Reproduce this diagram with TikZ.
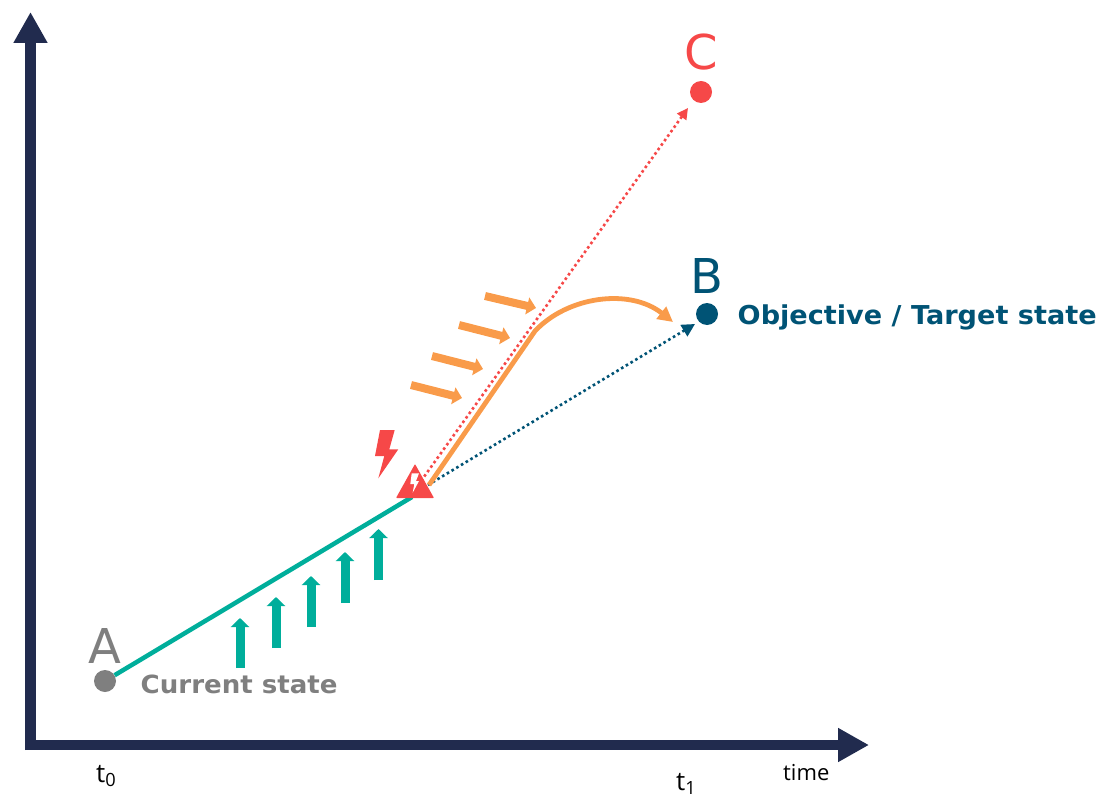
\documentclass[tikz,border=0pt]{standalone}
\usepackage{fontspec}
\setmainfont{DejaVu Sans}
\newfontfamily\lblfont{Open Sans}
\newfontfamily\widebold[FakeStretch=1.043]{DejaVu Sans Bold}
\usetikzlibrary{arrows.meta,calc}
\definecolor{navy}{HTML}{212B4E}
\definecolor{teal2}{HTML}{00AE9B}
\definecolor{orange2}{HTML}{F99B4A}
\definecolor{red2}{HTML}{F64848}
\definecolor{blue2}{HTML}{005375}
\definecolor{gray2}{HTML}{7F7F7F}
\tikzset{
  axisline/.style={draw=navy,line width=10.5pt,-{Triangle[length=31pt,width=32pt]}},
  dotpoint/.style={circle,minimum size=22pt,inner sep=0pt},
  bigletter/.style={font=\fontsize{48}{48}\selectfont,inner sep=0pt,anchor=center},
  statelabel/.style={inner sep=0pt,anchor=west},
  ticklabel/.style={font=\lblfont\fontsize{26}{26}\selectfont,inner sep=0pt,anchor=base west},
  pusharrow/.style={draw=orange2,line width=8pt,-{Triangle[length=9pt,width=17pt]}},
  liftarrow/.style={draw=teal2,line width=9pt,-{Triangle[length=9pt,width=18pt]}},
  dotline/.style={line width=2.6pt,dash pattern=on 2.6pt off 2.9pt}
}
\begin{document}
\begin{tikzpicture}[x=1pt,y=-1pt]
\useasboundingbox (0,0) rectangle (1102,794);
% axes
\coordinate (origin) at (30.5,745);
\coordinate (ytip) at (30.5,12);
\coordinate (xtip) at (869,745);
\coordinate (xstart) at (25.2,745);
\draw[axisline] (origin |- xstart) ++(0,5.2) -- (ytip);
\draw[axisline] (xstart) -- (xtip);
% points
\node[dotpoint,fill=gray2] (A) at (105,681) {};
\node[dotpoint,fill=blue2] (B) at (707,314) {};
\node[dotpoint,fill=red2] (C) at (701,92) {};
\node[bigletter,text=gray2] (Al) at (105,646) {A};
\node[bigletter,text=blue2] (Bl) at (707,276) {B};
\node[bigletter,text=red2] (Cl) at (701,52) {C};
\node[statelabel,text=gray2,font=\widebold\fontsize{25}{25}\selectfont] (Atext) at (140.5,684) {Current state};
\node[statelabel,text=blue2,font=\widebold\fontsize{26}{26}\selectfont] (Btext) at (737.5,317.5) {Objective / Target state};
\node[ticklabel] (t0) at (96,782) {t\textsubscript{0}};
\node[ticklabel] (t1) at (676,790) {t\textsubscript{1}};
\node[ticklabel,font=\lblfont\fontsize{22}{22}\selectfont] (timel) at (783,780) {time};
% warning triangle
\coordinate (warn) at (412,497);
\coordinate (redstart) at (421,481);
\coordinate (bluestart) at (428,485);
\coordinate (orangestart) at (429,485);
\coordinate (bend) at (535,331);
\coordinate (orangeend) at (673,322);
% paths
\draw[teal2,line width=4.5pt] (A) -- (warn);
\draw[red2,dotline,-{Triangle[length=11pt,width=11pt]}] (redstart) -- ($(C)+(-13,16)$);
\draw[blue2,dotline,-{Triangle[length=13pt,width=13pt]}] (bluestart) -- ($(B)+(-12,10)$);
\draw[orange2,line width=4.8pt,-{Triangle[length=15pt,width=15pt]}] (orangestart) -- (bend)
  .. controls (568,296) and (630,288) .. (orangeend);
\fill[red2,rounded corners=0.8pt] (415,464) -- (434,498) -- (396,498) -- cycle;
\fill[white] (411.7,473.3) -- (419,473.3) -- (416,481) -- (419,481) -- (412.7,492.7) -- (414.3,484) -- (410.3,484) -- cycle;
\fill[red2] (380,430) -- (394.7,430) -- (389.3,449.3) -- (398.3,449.3) -- (378.3,478.3) -- (384.3,456) -- (375,456) -- cycle;
% orange push arrows
\foreach \n/\xa/\ya/\xb/\yb in {1/485/296/536/308, 2/459/325/510/338, 3/432/356/483/369, 4/411/385/462/398}{
  \coordinate (ps\n) at (\xa,\ya);
  \coordinate (pe\n) at (\xb,\yb);
  \draw[pusharrow] (ps\n) -- (pe\n);
}
% teal lift arrows
\foreach \n/\xa/\ya/\yb in {1/240/668/618, 2/276/648/597, 3/311/627/576, 4/345/603/552, 5/378.5/580/529}{
  \coordinate (ls\n) at (\xa,\ya);
  \coordinate (le\n) at (\xa,\yb);
  \draw[liftarrow] (ls\n) -- (le\n);
}
\end{tikzpicture}
\end{document}
